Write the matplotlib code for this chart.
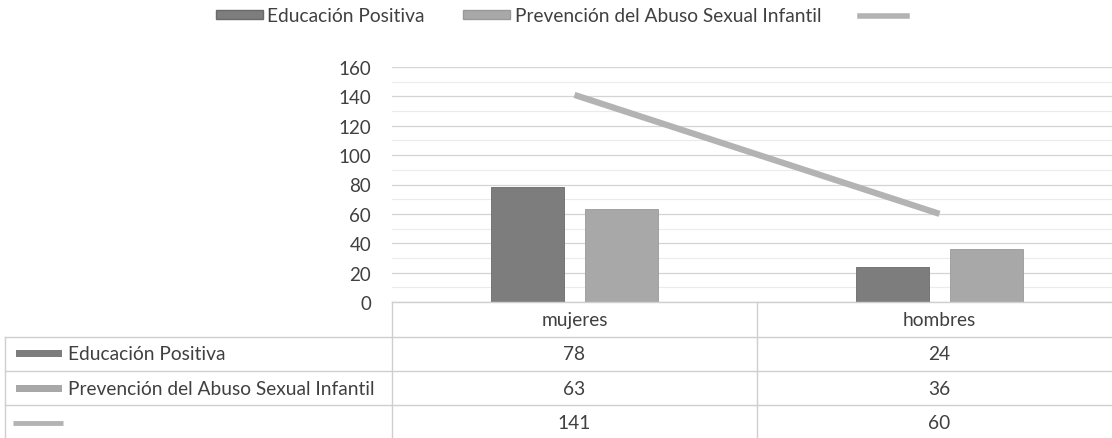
import numpy as np
import matplotlib.pyplot as plt
from matplotlib.patches import Patch, Rectangle
from matplotlib.lines import Line2D

# datos
categorias = ['mujeres', 'hombres']
educacion_positiva = [78, 24]
prevencion_abuso = [63, 36]
total = [141, 60]
series_nombres = ['Educación Positiva', 'Prevención del Abuso Sexual Infantil', '']
y_ticks = [0, 20, 40, 60, 80, 100, 120, 140, 160]

plt.rcParams['font.family'] = ['Lato', 'DejaVu Sans']

c_ep = '#7d7d7d'
c_pas = '#a8a8a8'
c_line = '#b3b3b3'
c_grid = '#d4d4d4'
c_txt = '#404040'
fs = 13.8

W_PX, H_PX = 1112, 439
fig = plt.figure(figsize=(W_PX / 100, H_PX / 100), dpi=100)

# area del grafico (en pixeles)
L, CW = 392, 365          # borde izquierdo y ancho por categoria
top, bot = 68, 303
ax = fig.add_axes([L / W_PX, 1 - bot / H_PX, 2 * CW / W_PX, (bot - top) / H_PX])

x = np.arange(len(categorias))
bw = 0.2
off = 0.129
ax.bar(x - off, educacion_positiva, bw, color=c_ep, edgecolor='#6a6a6a', linewidth=0.6, zorder=3)
ax.bar(x + off, prevencion_abuso, bw, color=c_pas, edgecolor='#999999', linewidth=0.6, zorder=3)
ax.plot(x, total, color=c_line, linewidth=4.5, solid_capstyle='butt', zorder=4)

ax.set_xlim(-0.5, 1.5)
ax.set_ylim(0, 160)
ax.set_yticks(y_ticks)
ax.set_yticks(np.arange(10, 160, 20), minor=True)
ax.yaxis.grid(True, which='major', color=c_grid, linewidth=0.9, zorder=0)
ax.yaxis.grid(True, which='minor', color='#ebebeb', linewidth=0.8, zorder=0)
ax.tick_params(axis='y', which='both', length=0, pad=15, labelsize=13.5, labelcolor=c_txt)
ax.tick_params(axis='x', length=0, labelbottom=False)
for s in ax.spines.values():
    s.set_visible(False)

# leyenda superior
handles = [Patch(facecolor=c_ep, edgecolor='#6a6a6a'),
           Patch(facecolor=c_pas, edgecolor='#999999'),
           Line2D([0], [0], color=c_line, linewidth=4)]
fig.legend(handles, series_nombres, loc='center left', bbox_to_anchor=(206 / W_PX, 1 - 17 / H_PX),
           ncol=3, frameon=False, fontsize=fs, handlelength=2.45, handleheight=0.35,
           handletextpad=0.25, columnspacing=2.0, borderpad=0, labelcolor=c_txt)

# tabla de datos (coordenadas en pixeles)
tab = fig.add_axes([0, 0, 1, 1])
tab.set_xlim(0, W_PX)
tab.set_ylim(H_PX, 0)
tab.axis('off')
tab.patch.set_alpha(0)

row_h = 34.5
y0 = bot
lc = '#cfcfcf'
left_tab = 5
right_tab = L + 2 * CW
# lineas horizontales
tab.plot([L, right_tab], [y0, y0], color=lc, lw=1)
for i in range(1, 4):
    yy = y0 + i * row_h
    tab.plot([left_tab, right_tab], [yy, yy], color=lc, lw=1)
# lineas verticales
for xx in [L, L + CW]:
    tab.plot([xx, xx], [y0, H_PX], color=lc, lw=1)
tab.plot([left_tab, left_tab], [y0 + row_h, H_PX], color=lc, lw=1)

# encabezados de categoria
for i, cat in enumerate(categorias):
    tab.text(L + CW * (i + 0.5), y0 + row_h / 2, cat, ha='center', va='center',
             fontsize=fs, color=c_txt)

filas = [educacion_positiva, prevencion_abuso, total]
colores = [c_ep, c_pas, c_line]
for r, (vals, nombre, col) in enumerate(zip(filas, series_nombres, colores)):
    yc = y0 + row_h * (r + 1.5)
    if r < 2:
        tab.add_patch(Rectangle((16, yc - 3.5), 46, 7, facecolor=col, edgecolor='none'))
    else:
        tab.plot([13, 63], [yc, yc], color=col, lw=3.5, solid_capstyle='butt')
    tab.text(68, yc, nombre, ha='left', va='center', fontsize=fs, color=c_txt)
    for i, v in enumerate(vals):
        tab.text(L + CW * (i + 0.5), yc, str(v), ha='center', va='center',
                 fontsize=fs, color=c_txt)

fig.savefig('out.png', dpi=100)
